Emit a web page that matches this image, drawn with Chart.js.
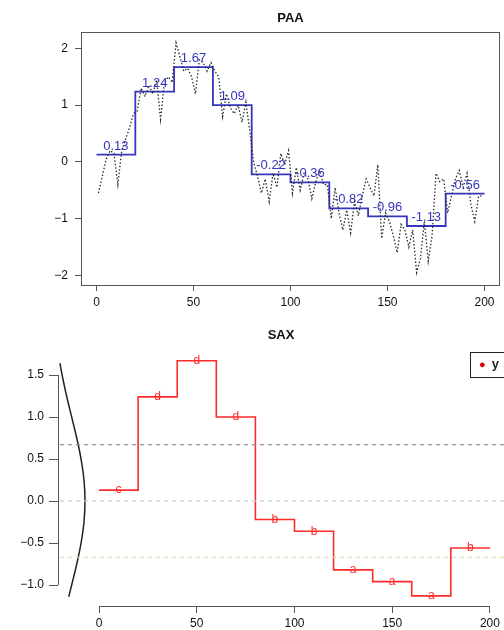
<!DOCTYPE html>
<html lang="en">
<head>
  <meta charset="UTF-8">
  <title>PAA / SAX</title>
  <script src="https://cdn.jsdelivr.net/npm/chart.js"></script>
  <style>
    body { margin: 0; background: #fff; width: 504px; height: 630px; overflow: hidden; position: relative; }
    canvas { position: absolute; left: 0; }
    #paaChart { top: 0; }
    #saxChart { top: 315px; }
    .legend {
      position: absolute; left: 470px; top: 352px; width: 60px; height: 24px;
      border: 1px solid #222; font-family: "Liberation Sans", Arial, sans-serif;
      font-size: 13px; font-weight: bold; color: #222; line-height: 22px;
    }
    .legend .dot { color: #d00; font-size: 11px; margin-left: 8px; margin-right: 6px; }
  </style>
</head>
<body>
  <canvas id="paaChart" width="504" height="310"></canvas>
  <canvas id="saxChart" width="504" height="315"></canvas>
  <div class="legend"><span class="dot">&#9679;</span>y</div>

  <script>
    // raw series, read every 2nd step (t = 1, 3, ..., 199)
    const rawValues = [
      -0.55, -0.25, 0.05, 0.2, 0.15, -0.4, 0.2, 0.4, 0.6, 0.85,
      0.9, 1.3, 1.15, 1.35, 1.2, 1.45, 0.75, 1.4, 1.5, 1.4,
      2.1, 1.85, 1.6, 1.65, 1.5, 1.2, 1.8, 1.75, 1.6, 1.75,
      1.6, 1.5, 0.8, 1.2, 0.95, 0.85, 1.0, 0.7, 1.05, 0.55,
      0.0, -0.25, -0.55, -0.3, -0.7, -0.2, -0.45, 0.15, -0.05, 0.2,
      -0.55, -0.1, -0.5, -0.2, -0.3, -0.65, -0.35, -0.15, -0.4, -0.4,
      -1.0, -0.45, -0.9, -1.2, -0.85, -1.25, -0.7, -0.95, -0.6, -0.3,
      -0.45, -0.6, -0.05, -1.35, -0.9, -1.05, -1.3, -1.6, -1.1, -1.2,
      -1.5, -1.2, -1.95, -1.7, -1.05, -1.75, -1.3, -0.2, -0.35, -0.3,
      -0.9, -0.6, -0.3, -0.15, -0.45, -0.2, -0.75, -1.05, -0.6, -0.6
    ];

    // PAA segments (20 points each)
    const segStarts = [0, 20, 40, 60, 80, 100, 120, 140, 160, 180];
    const segMids = [10, 30, 50, 70, 90, 110, 130, 150, 170, 190];
    const paaValues = [0.13, 1.24, 1.67, 1.0, -0.22, -0.36, -0.82, -0.96, -1.13, -0.56];
    const paaLabels = ['0.13', '1.24', '1.67', '1.09', '-0.22', '-0.36', '-0.82', '-0.96', '-1.13', '-0.56'];
    const saxLetters = ['c', 'd', 'd', 'd', 'b', 'b', 'a', 'a', 'a', 'b'];

    // breakpoints for 4 letters
    const breakpoints = [0.67, 0, -0.67];
    const breakColors = ['#8a8a8a', '#b9cdd6', '#cfe0a8'];

    // normal density drawn sideways at the left of the SAX plot
    const curveY = [1.64, 1.5, 1.25, 1.0, 0.75, 0.5, 0.25, 0, -0.25, -0.5, -0.75, -1.0, -1.14];
    const curveX = [-20.0, -18.9, -16.6, -14.0, -11.4, -9.2, -7.7, -7.2, -7.7, -9.2, -11.4, -14.0, -15.5];

    const paaTicksX = [0, 50, 100, 150, 200];
    const paaTicksY = [-2, -1, 0, 1, 2];
    const saxTicksY = [-1.0, -0.5, 0.0, 0.5, 1.0, 1.5];

    const FONT = '"Liberation Sans", Arial, sans-serif';
    const BLUE = '#3535c0';
    const RED = '#ff2a2a';

    function stepData(values) {
      const pts = segStarts.map((x, i) => ({ x: x, y: values[i] }));
      pts.push({ x: 200, y: values[values.length - 1] });
      return pts;
    }

    // texts on top of points of a dataset
    const textLabels = {
      id: 'textLabels',
      afterDatasetsDraw(chart) {
        const ctx = chart.ctx;
        chart.data.datasets.forEach((ds, i) => {
          if (!ds.texts) return;
          const meta = chart.getDatasetMeta(i);
          ctx.save();
          ctx.font = ds.textFont;
          ctx.fillStyle = ds.textColor;
          ctx.textAlign = 'center';
          ctx.textBaseline = ds.textBaseline;
          meta.data.forEach((pt, j) => {
            ctx.fillText(ds.texts[j], pt.x, pt.y + ds.textDy);
          });
          ctx.restore();
        });
      }
    };

    // title centred on the plot region, plus box / R style axis lines
    const frame = {
      id: 'frame',
      afterDraw(chart, args, opts) {
        const ctx = chart.ctx;
        const a = chart.chartArea;
        ctx.save();
        ctx.font = 'bold 13px ' + FONT;
        ctx.fillStyle = '#111';
        ctx.textAlign = 'center';
        ctx.textBaseline = 'middle';
        ctx.fillText(opts.title, (a.left + a.right) / 2, a.top - opts.titleGap);
        ctx.strokeStyle = '#555';
        ctx.lineWidth = 1;
        if (opts.box) {
          ctx.strokeRect(a.left + 0.5, a.top + 0.5, a.right - a.left - 1, a.bottom - a.top);
        } else {
          const sx = chart.scales.x, sy = chart.scales.y;
          ctx.beginPath();
          ctx.moveTo(sx.getPixelForValue(0), a.bottom + 0.5);
          ctx.lineTo(sx.getPixelForValue(200), a.bottom + 0.5);
          ctx.moveTo(a.left + 0.5, sy.getPixelForValue(1.5));
          ctx.lineTo(a.left + 0.5, sy.getPixelForValue(-1.0));
          ctx.stroke();
        }
        ctx.restore();
      }
    };

    function axis(min, max, ticks, size, isX, tickLen, pad, fmt) {
      return {
        type: 'linear',
        min: min,
        max: max,
        afterBuildTicks: s => { s.ticks = ticks.map(v => ({ value: v })); },
        afterFit: s => { if (isX) s.height = size; else s.width = size; },
        border: { display: false },
        grid: { drawOnChartArea: false, drawTicks: true, tickLength: tickLen, color: '#555', lineWidth: 1 },
        ticks: {
          color: '#111',
          padding: pad,
          maxRotation: 0,
          autoSkip: false,
          font: { family: FONT, size: 12 },
          callback: fmt
        }
      };
    }

    const minus = v => String(v).replace('-', '\u2212');

    new Chart(document.getElementById('paaChart'), {
      type: 'scatter',
      data: {
        datasets: [{
          data: rawValues.map((v, i) => ({ x: i * 2 + 1, y: v })),
          showLine: true,
          pointRadius: 0,
          borderColor: '#2a2a2a',
          borderWidth: 1.3,
          borderDash: [1.5, 2]
        }, {
          data: stepData(paaValues),
          showLine: true,
          stepped: true,
          pointRadius: 0,
          borderColor: BLUE,
          borderWidth: 1.8
        }, {
          data: segMids.map((x, i) => ({ x: x, y: paaValues[i] })),
          pointRadius: 0,
          texts: paaLabels,
          textFont: '13px ' + FONT,
          textColor: BLUE,
          textBaseline: 'bottom',
          textDy: -2
        }]
      },
      options: {
        responsive: false,
        animation: false,
        devicePixelRatio: 1,
        layout: { padding: { top: 32, right: 4, left: 0, bottom: 0 } },
        plugins: {
          legend: { display: false },
          tooltip: { enabled: false },
          frame: { title: 'PAA', titleGap: 14, box: true }
        },
        scales: {
          x: axis(-8, 208, paaTicksX, 25, true, 6, 4, v => minus(v)),
          y: axis(-2.17, 2.29, paaTicksY, 81, false, 6, 7, v => minus(v))
        }
      },
      plugins: [textLabels, frame]
    });

    const breakSets = breakpoints.map((b, i) => ({
      data: [{ x: -20, y: b }, { x: 207.2, y: b }],
      showLine: true,
      pointRadius: 0,
      borderColor: breakColors[i],
      borderWidth: 1.2,
      borderDash: [4, 4]
    }));

    new Chart(document.getElementById('saxChart'), {
      type: 'scatter',
      data: {
        datasets: breakSets.concat([{
          data: curveY.map((y, i) => ({ x: curveX[i], y: y })),
          showLine: true,
          tension: 0.35,
          pointRadius: 0,
          borderColor: '#222',
          borderWidth: 1.5
        }, {
          data: stepData(paaValues),
          showLine: true,
          stepped: true,
          pointRadius: 0,
          borderColor: RED,
          borderWidth: 1.6
        }, {
          data: segMids.map((x, i) => ({ x: x, y: paaValues[i] })),
          pointRadius: 0,
          texts: saxLetters,
          textFont: '12px ' + FONT,
          textColor: RED,
          textBaseline: 'middle',
          textDy: 0
        }])
      },
      options: {
        responsive: false,
        animation: false,
        devicePixelRatio: 1,
        layout: { padding: { top: 36.5, right: 0, left: 0, bottom: 0 } },
        plugins: {
          legend: { display: false },
          tooltip: { enabled: false },
          frame: { title: 'SAX', titleGap: 16, box: false }
        },
        scales: {
          x: axis(-21, 207.2, paaTicksX, 24, true, 7, 3, v => minus(v)),
          y: axis(-1.25, 1.78, saxTicksY, 58, false, 9, 5, v => minus(v.toFixed(1)))
        }
      },
      plugins: [textLabels, frame]
    });
  </script>
</body>
</html>
